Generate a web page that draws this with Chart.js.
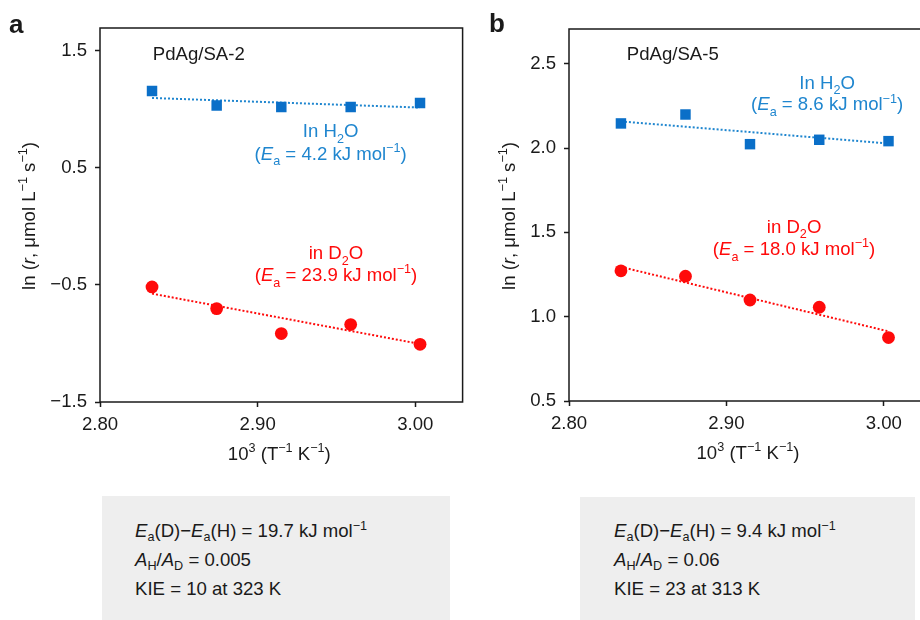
<!DOCTYPE html>
<html>
<head>
<meta charset="utf-8">
<script src="https://cdn.jsdelivr.net/npm/chart.js@4.4.1/dist/chart.umd.min.js"></script>
<style>
  html, body { margin: 0; padding: 0; background: #fff; }
  #page { position: relative; width: 920px; height: 620px; overflow: hidden; font-family: 'Liberation Sans', Arial, sans-serif; color: #1a1a1a; }
  canvas { position: absolute; top: 0; }
  .tag { position: absolute; font-weight: bold; font-size: 26px; line-height: 26px; }
  .box { position: absolute; background: #eeeeee; }
  .ln { position: absolute; font-size: 18.6px; line-height: 29px; white-space: nowrap; }
  .ln sub, .ln sup { font-size: 0.68em; line-height: 0; position: relative; vertical-align: baseline; }
  .ln sub { top: 0.3em; }
  .ln sup { top: -0.55em; }
</style>
</head>
<body>
<div id="page">
  <canvas id="chartA" width="470" height="480" style="left:0"></canvas>
  <canvas id="chartB" width="480" height="480" style="left:460px"></canvas>
  <div class="tag" style="left:9px;top:11px">a</div>
  <div class="tag" style="left:489px;top:10px">b</div>
  <div class="box" style="left:102px;top:496px;width:348px;height:124px">
    <div class="ln" style="left:33px;top:20px"><i>E</i><sub>a</sub>(D)−<i>E</i><sub>a</sub>(H) = 19.7 kJ mol<sup>−1</sup></div>
    <div class="ln" style="left:33px;top:49px"><i>A</i><sub>H</sub>/<i>A</i><sub>D</sub> = 0.005</div>
    <div class="ln" style="left:33px;top:78px">KIE = 10 at 323 K</div>
  </div>
  <div class="box" style="left:580px;top:497px;width:335px;height:123px">
    <div class="ln" style="left:34px;top:19px"><i>E</i><sub>a</sub>(D)−<i>E</i><sub>a</sub>(H) = 9.4 kJ mol<sup>−1</sup></div>
    <div class="ln" style="left:34px;top:48px"><i>A</i><sub>H</sub>/<i>A</i><sub>D</sub> = 0.06</div>
    <div class="ln" style="left:34px;top:77px">KIE = 23 at 313 K</div>
  </div>
</div>
<script>
// 1000/T for T = 353, 348, 343, 338, 333 K
const invT = [2.833, 2.874, 2.915, 2.959, 3.003];
const fitX = [2.833, 3.003];
const xTicks = [2.80, 2.90, 3.00];

// panel a: PdAg/SA-2
const h2oA = [1.158, 1.033, 1.021, 1.021, 1.056];
const d2oA = [-0.517, -0.702, -0.915, -0.838, -1.007];
const fitH2oA = [1.098, 1.016];
const fitD2oA = [-0.574, -1.004];
const yTicksA = [-1.5, -0.5, 0.5, 1.5];

// panel b: PdAg/SA-5
const h2oB = [2.146, 2.199, 2.023, 2.049, 2.041];
const d2oB = [1.272, 1.240, 1.099, 1.056, 0.876];
const fitH2oB = [2.158, 2.027];
const fitD2oB = [1.295, 0.913];
const yTicksB = [0.5, 1.0, 1.5, 2.0, 2.5];

const FONT = "'Liberation Sans', Arial, sans-serif";
const FS = 18.6;
const INK = '#1a1a1a';
const BLUE = '#0a6fc8';
const BLUE_TXT = '#1f86cf';
const RED = '#ff0a0a';

function drawRich(ctx, segs, x, y, size, color, align) {
  const parts = segs.map(([t, k]) => {
    const small = k === 'sub' || k === 'sup';
    const font = (k === 'i' ? 'italic ' : '') + (small ? size * 0.68 : size) + 'px ' + FONT;
    ctx.font = font;
    return { t, k, font, w: ctx.measureText(t).width };
  });
  const total = parts.reduce((s, p) => s + p.w, 0);
  let cx = align === 'center' ? x - total / 2 : x;
  ctx.fillStyle = color;
  ctx.textAlign = 'left';
  ctx.textBaseline = 'alphabetic';
  parts.forEach(p => {
    ctx.font = p.font;
    const dy = p.k === 'sub' ? size * 0.3 : p.k === 'sup' ? -size * 0.42 : 0;
    ctx.fillText(p.t, cx, y + dy);
    cx += p.w;
  });
}

const yTitle = [['ln (', 'n'], ['r', 'i'], [', μmol L', 'n'], ['−1', 'sup'], [' s', 'n'], ['−1', 'sup'], [')', 'n']];
const xTitle = [['10', 'n'], ['3', 'sup'], [' (T', 'n'], ['−1', 'sup'], [' K', 'n'], ['−1', 'sup'], [')', 'n']];

function eaText(v) {
  return [['(', 'n'], ['E', 'i'], ['a', 'sub'], [' = ' + v + ' kJ mol', 'n'], ['−1', 'sup'], [')', 'n']];
}

function buildPanel(id, p) {
  const ctx = document.getElementById(id).getContext('2d');

  const decor = {
    id: 'decor',
    afterDraw(chart) {
      const c = chart.ctx;
      const a = chart.chartArea;
      const sx = chart.scales.x, sy = chart.scales.y;
      c.save();
      c.strokeStyle = INK;
      c.lineWidth = 1.5;
      c.strokeRect(a.left, a.top, a.right - a.left, a.bottom - a.top);

      p.notes.forEach(n => {
        drawRich(c, n.segs, sx.getPixelForValue(n.x), sy.getPixelForValue(n.y), FS, n.color, n.align);
      });

      drawRich(c, xTitle, (a.left + a.right) / 2 - 2, a.bottom + 58, FS, INK, 'center');
      c.translate(p.yTitleX, (a.top + a.bottom) / 2 + 1);
      c.rotate(-Math.PI / 2);
      drawRich(c, yTitle, 0, 0, FS, INK, 'center');
      c.restore();
    }
  };

  return new Chart(ctx, {
    type: 'scatter',
    data: {
      datasets: [
        {
          label: 'H2O',
          data: invT.map((x, i) => ({ x: x, y: p.h2o[i] })),
          pointStyle: 'rect',
          pointRadius: 7.4,
          backgroundColor: BLUE,
          borderWidth: 0,
          order: 1
        },
        {
          label: 'D2O',
          data: invT.map((x, i) => ({ x: x, y: p.d2o[i] })),
          pointStyle: 'circle',
          pointRadius: 6.4,
          backgroundColor: RED,
          borderWidth: 0,
          order: 1
        },
        {
          label: 'H2O fit',
          data: fitX.map((x, i) => ({ x: x, y: p.fitH2o[i] })),
          showLine: true,
          pointRadius: 0,
          borderColor: BLUE_TXT,
          borderWidth: 2,
          borderDash: [2, 2],
          order: 2
        },
        {
          label: 'D2O fit',
          data: fitX.map((x, i) => ({ x: x, y: p.fitD2o[i] })),
          showLine: true,
          pointRadius: 0,
          borderColor: RED,
          borderWidth: 2,
          borderDash: [2, 2],
          order: 2
        }
      ]
    },
    options: {
      responsive: false,
      animation: false,
      events: [],
      layout: { padding: p.pad },
      plugins: { legend: { display: false }, tooltip: { enabled: false } },
      scales: {
        x: {
          type: 'linear',
          min: 2.80,
          max: 3.03,
          afterBuildTicks: s => { s.ticks = xTicks.map(v => ({ value: v })); },
          afterFit: s => { s.height = p.xH; },
          grid: { drawOnChartArea: false, color: INK, tickLength: 5, tickWidth: 1.5 },
          border: { display: false },
          ticks: {
            padding: 7,
            color: INK,
            font: { family: FONT, size: FS },
            callback: v => v.toFixed(2)
          }
        },
        y: {
          type: 'linear',
          min: p.yMin,
          max: p.yMax,
          afterBuildTicks: s => { s.ticks = p.yTicks.map(v => ({ value: v })); },
          afterFit: s => { s.width = p.yW; },
          grid: { drawOnChartArea: false, color: INK, tickLength: 5, tickWidth: 1.5 },
          border: { display: false },
          ticks: {
            padding: 8,
            color: INK,
            font: { family: FONT, size: FS },
            callback: v => v.toFixed(1).replace('-', '−')
          }
        }
      }
    },
    plugins: [decor]
  });
}

buildPanel('chartA', {
  h2o: h2oA, d2o: d2oA, fitH2o: fitH2oA, fitD2o: fitD2oA,
  yMin: -1.5, yMax: 1.696, yTicks: yTicksA,
  pad: { top: 28, right: 6, left: 0, bottom: 0 }, yW: 100, xH: 78, yTitleX: 35,
  notes: [
    { x: 2.8335, y: 1.426, segs: [['PdAg/SA-2', 'n']], color: INK, align: 'left' },
    { x: 2.9463, y: 0.765, segs: [['In H', 'n'], ['2', 'sub'], ['O', 'n']], color: BLUE_TXT, align: 'center' },
    { x: 2.9463, y: 0.572, segs: eaText('4.2'), color: BLUE_TXT, align: 'center' },
    { x: 2.9497, y: -0.280, segs: [['in D', 'n'], ['2', 'sub'], ['O', 'n']], color: RED, align: 'center' },
    { x: 2.9497, y: -0.468, segs: eaText('23.9'), color: RED, align: 'center' }
  ]
});

buildPanel('chartB', {
  h2o: h2oB, d2o: d2oB, fitH2o: fitH2oB, fitD2o: fitD2oB,
  yMin: 0.5, yMax: 2.706, yTicks: yTicksB,
  pad: { top: 29, right: 9, left: 0, bottom: 0 }, yW: 109, xH: 79, yTitleX: 55,
  notes: [
    { x: 2.8367, y: 2.524, segs: [['PdAg/SA-5', 'n']], color: INK, align: 'left' },
    { x: 2.964, y: 2.353, segs: [['In H', 'n'], ['2', 'sub'], ['O', 'n']], color: BLUE_TXT, align: 'center' },
    { x: 2.964, y: 2.223, segs: eaText('8.6'), color: BLUE_TXT, align: 'center' },
    { x: 2.943, y: 1.497, segs: [['in D', 'n'], ['2', 'sub'], ['O', 'n']], color: RED, align: 'center' },
    { x: 2.943, y: 1.366, segs: eaText('18.0'), color: RED, align: 'center' }
  ]
});
</script>
</body>
</html>
